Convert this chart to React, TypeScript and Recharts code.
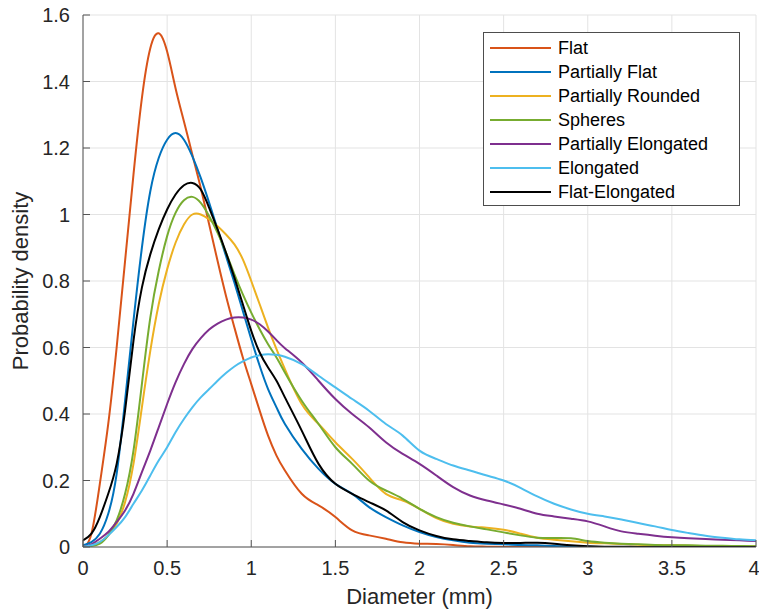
import { LineChart, Line, XAxis, YAxis, CartesianGrid, Legend } from 'recharts'

const AXIS = '#555555'
const TEXT = '#262626'
const FONT = '"Liberation Sans", Arial, Helvetica, sans-serif'

// diameter (mm), finer steps where the peaks are
const XS = [
  0, 0.05, 0.1, 0.15, 0.2, 0.25, 0.3, 0.35, 0.4, 0.45, 0.5, 0.55, 0.6, 0.65, 0.7, 0.75, 0.8, 0.85, 0.9, 0.95, 1.0, 1.05, 1.1, 1.15, 1.2,
  1.3, 1.4, 1.5, 1.6, 1.7, 1.8, 1.9, 2.0, 2.1, 2.2, 2.3, 2.4, 2.5, 2.6, 2.7, 2.8, 2.9, 3.0, 3.1, 3.2, 3.3, 3.4, 3.5, 3.6, 3.7, 3.8, 3.9, 4.0,
]

const FLAT = [
  0, 0.04, 0.19, 0.37, 0.6, 0.86, 1.12, 1.35, 1.5, 1.545, 1.49, 1.38, 1.28, 1.18, 1.08, 0.97, 0.86, 0.755, 0.66, 0.57, 0.49, 0.41, 0.335, 0.275, 0.23,
  0.16, 0.125, 0.09, 0.05, 0.035, 0.025, 0.014, 0.01, 0.009, 0.006, 0.002, 0.001, 0, 0, 0, 0, 0, 0, 0, 0, 0, 0, 0, 0, 0, 0, 0, 0,
]
const PARTIALLY_FLAT = [
  0.005, 0.015, 0.04, 0.1, 0.22, 0.44, 0.68, 0.9, 1.07, 1.17, 1.225, 1.245, 1.225, 1.175, 1.11, 1.035, 0.955, 0.875, 0.795, 0.71, 0.625, 0.545, 0.475, 0.42, 0.37,
  0.295, 0.235, 0.19, 0.16, 0.12, 0.09, 0.065, 0.045, 0.03, 0.02, 0.013, 0.01, 0.008, 0.006, 0.005, 0.003, 0.002, 0.001, 0, 0, 0, 0, 0, 0, 0, 0, 0, 0,
]
const PARTIALLY_ROUNDED = [
  0, 0.005, 0.015, 0.035, 0.07, 0.135, 0.25, 0.42, 0.59, 0.73, 0.835, 0.915, 0.97, 1.0, 1.0, 0.985, 0.965, 0.94, 0.91, 0.865, 0.8, 0.73, 0.66, 0.595, 0.535,
  0.43, 0.37, 0.315, 0.265, 0.21, 0.16, 0.14, 0.115, 0.087, 0.07, 0.062, 0.058, 0.052, 0.04, 0.028, 0.022, 0.017, 0.013, 0.011, 0.009, 0.007, 0.006, 0.005, 0.004, 0.003, 0.003, 0.002, 0.002,
]
const SPHERES = [
  0, 0.003, 0.01, 0.035, 0.08, 0.16, 0.29, 0.49, 0.69, 0.83, 0.935, 1.005, 1.043, 1.053, 1.035, 0.995, 0.945, 0.885, 0.82, 0.76, 0.705, 0.655, 0.61, 0.57, 0.525,
  0.44, 0.37, 0.3, 0.25, 0.2, 0.17, 0.145, 0.115, 0.09, 0.073, 0.062, 0.053, 0.044, 0.035, 0.028, 0.027, 0.026, 0.018, 0.013, 0.01, 0.008, 0.006, 0.005, 0.005, 0.004, 0.004, 0.003, 0.002,
]
const PARTIALLY_ELONGATED = [
  0, 0.008, 0.025, 0.045, 0.075, 0.11, 0.16, 0.225, 0.29, 0.36, 0.43, 0.495, 0.55, 0.595, 0.628, 0.654, 0.672, 0.684, 0.69, 0.69, 0.684, 0.67, 0.648, 0.622, 0.598,
  0.555, 0.5, 0.445, 0.4, 0.36, 0.315, 0.28, 0.25, 0.215, 0.18, 0.155, 0.14, 0.128, 0.115, 0.1, 0.092, 0.085, 0.077, 0.062, 0.047, 0.04, 0.034, 0.029, 0.026, 0.024, 0.022, 0.02, 0.018,
]
const ELONGATED = [
  0, 0.005, 0.015, 0.035, 0.06, 0.09, 0.13, 0.17, 0.215, 0.26, 0.3, 0.345, 0.385, 0.42, 0.45, 0.475, 0.5, 0.523, 0.543, 0.558, 0.57, 0.577, 0.58, 0.578, 0.572,
  0.55, 0.515, 0.48, 0.445, 0.41, 0.37, 0.335, 0.29, 0.265, 0.245, 0.23, 0.215, 0.2, 0.178, 0.152, 0.13, 0.113, 0.1, 0.092, 0.083, 0.072, 0.062, 0.051, 0.042, 0.034, 0.028, 0.023, 0.02,
]
const FLAT_ELONGATED = [
  0.02, 0.04, 0.09, 0.16, 0.25, 0.41, 0.62, 0.78, 0.88, 0.955, 1.015, 1.06, 1.088, 1.095, 1.075, 1.02, 0.955, 0.885, 0.81, 0.73, 0.65, 0.585, 0.54, 0.5, 0.45,
  0.35, 0.25, 0.19, 0.16, 0.135, 0.11, 0.075, 0.05, 0.033, 0.023, 0.018, 0.014, 0.012, 0.012, 0.013, 0.01, 0.005, 0.002, 0.001, 0.001, 0, 0, 0, 0, 0, 0, 0, 0,
]

const X_TICKS = [0, 0.5, 1, 1.5, 2, 2.5, 3, 3.5, 4]
const Y_TICKS = [0, 0.2, 0.4, 0.6, 0.8, 1, 1.2, 1.4, 1.6]

const SERIES = [
  { key: 'flat', name: 'Flat', color: '#D95319', values: FLAT },
  { key: 'pflat', name: 'Partially Flat', color: '#0072BD', values: PARTIALLY_FLAT },
  { key: 'pround', name: 'Partially Rounded', color: '#EDB120', values: PARTIALLY_ROUNDED },
  { key: 'spheres', name: 'Spheres', color: '#77AC30', values: SPHERES },
  { key: 'pelong', name: 'Partially Elongated', color: '#7E2F8E', values: PARTIALLY_ELONGATED },
  { key: 'elong', name: 'Elongated', color: '#4DBEEE', values: ELONGATED },
  { key: 'flatelong', name: 'Flat-Elongated', color: '#000000', values: FLAT_ELONGATED },
]
const ORDER = SERIES.map(s => s.name)

const data = XS.map((x, i) => {
  const row: Record<string, number> = { x }
  SERIES.forEach(s => { row[s.key] = s.values[i] })
  return row
})

// eslint-disable-next-line @typescript-eslint/no-explicit-any
function LegendBox({ payload }: any) {
  // keep the plotting order, not alphabetical
  // eslint-disable-next-line @typescript-eslint/no-explicit-any
  const items = [...(payload ?? [])].sort((a: any, b: any) => ORDER.indexOf(a.value) - ORDER.indexOf(b.value))
  return (
    <div style={{ width: 257, height: 174, boxSizing: 'border-box', border: '1px solid #4d4d4d', background: '#fff', padding: '3px 0', fontFamily: FONT }}>
      {/* eslint-disable-next-line @typescript-eslint/no-explicit-any */}
      {items.map((p: any) => (
        <div key={p.value} style={{ display: 'flex', alignItems: 'center', height: 24 }}>
          <span style={{ display: 'inline-block', marginLeft: 6, width: 61, height: 2, background: p.color }} />
          <span style={{ marginLeft: 7, fontSize: 18, color: '#000', lineHeight: '24px' }}>{p.value}</span>
        </div>
      ))}
    </div>
  )
}

export default function App() {
  return (
    <div style={{ position: 'absolute', left: 0, top: 0 }}>
      <LineChart width={759} height={615} data={data} margin={{ top: 15, right: 3, bottom: 0, left: 0 }}>
        <CartesianGrid stroke="#e3e3e3" />
        <XAxis
          dataKey="x" type="number" domain={[0, 4]} ticks={X_TICKS} allowDataOverflow
          height={68} tickSize={-7} tickMargin={21} stroke={AXIS}
          tick={{ fontSize: 20, fill: TEXT, fontFamily: FONT }}
          label={{ value: 'Diameter (mm)', position: 'insideBottom', offset: 11, fontSize: 22, fill: TEXT, fontFamily: FONT }}
        />
        <YAxis
          type="number" domain={[0, 1.6]} ticks={Y_TICKS} allowDataOverflow
          width={83} tickSize={-7} tickMargin={20} stroke={AXIS}
          tick={{ fontSize: 20, fill: TEXT, fontFamily: FONT }}
          label={{ value: 'Probability density', angle: -90, position: 'insideLeft', offset: 20, fontSize: 22, fill: TEXT, fontFamily: FONT, style: { textAnchor: 'middle' } }}
        />
        <XAxis xAxisId="top" orientation="top" type="number" domain={[0, 4]} ticks={X_TICKS} allowDataOverflow height={0} tickSize={-7} stroke={AXIS} tickFormatter={() => ''} />
        <YAxis yAxisId="right" orientation="right" type="number" domain={[0, 1.6]} ticks={Y_TICKS} allowDataOverflow width={0} tickSize={-7} stroke={AXIS} tickFormatter={() => ''} />
        <Legend content={<LegendBox />} itemSorter={null} layout="vertical" align="center" verticalAlign="middle" wrapperStyle={{ left: 483, top: 32, width: 257, height: 174 }} />
        {SERIES.map(s => (
          <Line key={s.key} type="natural" dataKey={s.key} name={s.name} stroke={s.color} strokeWidth={2} dot={false} isAnimationActive={false} />
        ))}
      </LineChart>
    </div>
  )
}
